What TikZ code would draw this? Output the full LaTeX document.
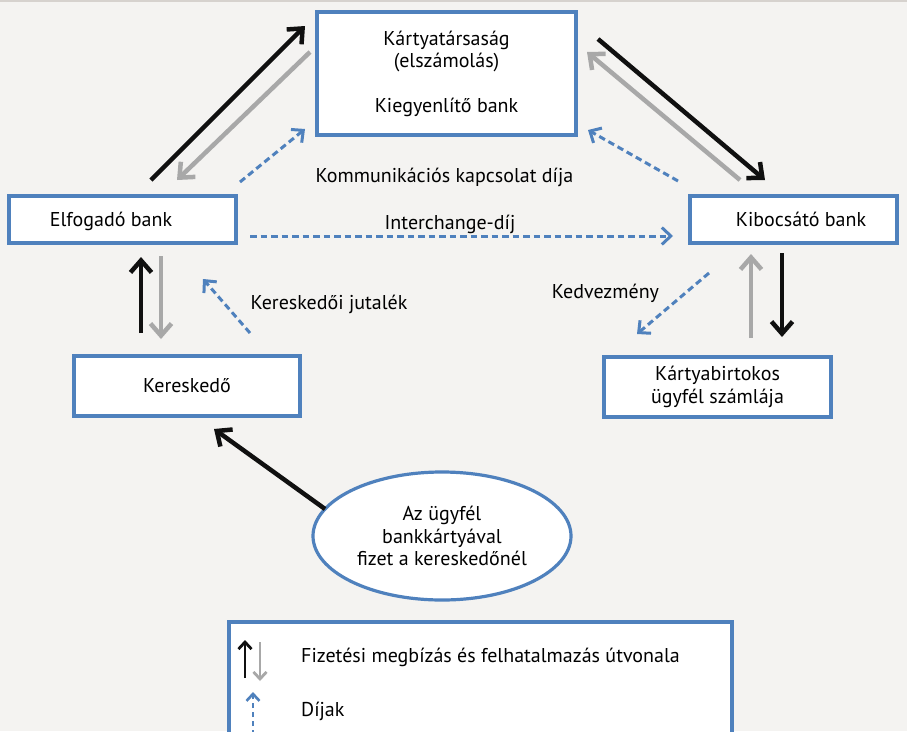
\documentclass[tikz,border=0pt]{standalone}
\usepackage{fontspec}
\setmainfont{PT Sans}
\usetikzlibrary{arrows.meta,shapes.geometric,calc}
\definecolor{bgc}{HTML}{F4F3F1}
\definecolor{bblue}{HTML}{4F81BD}
\definecolor{agray}{HTML}{A8A8A8}
\definecolor{ablack}{HTML}{101010}
\definecolor{topline}{HTML}{D6D2CE}
\newcommand\dgfs{\fontsize{20pt}{22.5pt}\selectfont}
\begin{document}
\begin{tikzpicture}[x=1pt,y=-1pt,
  box/.style={draw=bblue,line width=3.2pt,fill=white,rectangle,inner sep=0pt,outer sep=0pt,align=center,font=\dgfs},
  txt/.style={inner sep=0pt,font=\dgfs,text height=16pt,text depth=4pt},
  blk/.style={draw=ablack,line width=4.5pt,-{Straight Barb[length=12pt,width=21pt]}},
  gry/.style={draw=agray,line width=4.5pt,-{Straight Barb[length=12pt,width=21pt]}},
  fee/.style={draw=bblue,line width=3pt,dash pattern=on 6.5pt off 4pt,-{Straight Barb[length=9pt,width=17pt]}},
  lblk/.style={draw=ablack,line width=2.8pt,-{Straight Barb[length=7pt,width=13pt]}},
  lgry/.style={draw=agray,line width=2.8pt,-{Straight Barb[length=7pt,width=13pt]}},
  lfee/.style={draw=bblue,line width=2.6pt,dash pattern=on 5pt off 4pt,-{Straight Barb[length=7pt,width=13pt]}}]
\fill[bgc] (0,0) rectangle (907,731);
\useasboundingbox (0,0) rectangle (907,731);
\draw[topline,line width=1.5pt] (0,0.75) -- (907,0.75);

% boxes
\node[box,minimum width=259pt,minimum height=123pt] (card) at (446.5,73.5)
  {Kártyatársaság\\(elszámolás)\\[22pt]Kiegyenlítő bank};
\node[box,minimum width=227pt,minimum height=47pt] (elf) at (122.5,219.5) {};
\node[txt] (elft) at (111,220) {Elfogadó bank};
\node[box,minimum width=207pt,minimum height=47pt] (kib) at (793.5,219.5) {};
\node[txt] (kibt) at (801,220) {Kibocsátó bank};
\node[box,minimum width=226pt,minimum height=60pt] (ker) at (187,386) {Kereskedő};
\node[box,minimum width=227pt,minimum height=60pt] (kar) at (717.5,387) {Kártyabirtokos\\ügyfél számlája};
\node[draw=bblue,line width=3.2pt,fill=white,ellipse,minimum width=258pt,minimum height=128pt,
  inner sep=0pt,outer sep=0pt,align=center,font=\dgfs] (ell) at (442,536)
  {Az ügyfél\\bankkártyával\\fizet a kereskedőnél};

% labels
\node[txt] (komm) at (444.5,176) {Kommunikációs kapcsolat díja};
\node[txt] (inter) at (450,223) {Interchange-díj};
\node[txt] (jut) at (329,303) {Kereskedői jutalék};
\node[txt] (kedv) at (605.5,292) {Kedvezmény};

% connectors
\draw[blk] ($(elf.north)+(28.5,-16)$) -- ($(card.north west)+(-12,14)$);
\draw[gry] ($(card.north west)+(-7,40)$) -- ($(elf.north)+(54.5,-16)$);
\draw[fee] ($(elf.north east)+(4,-14)$) -- ($(card.south west)+(-12,-6)$);
\draw[blk] ($(card.north east)+(22,27)$) -- ($(kib.north)+(-28.5,-16)$);
\draw[gry] ($(kib.north)+(-53.5,-16)$) -- ($(card.north east)+(11,40)$);
\draw[fee] ($(kib.north west)+(-12,-15)$) -- ($(card.south east)+(12,-5)$);
\draw[fee] ($(elf.east)+(14,16.5)$) -- ($(kib.west)+(-17,16.5)$);
\draw[blk] ($(ker.north)+(-46,-23)$) -- ($(elf.south)+(18.5,14)$);
\draw[gry] ($(elf.south)+(38.5,13)$) -- ($(ker.north)+(-26,-17)$);
\draw[fee] ($(ker.north east)+(-50,-23)$) -- ($(elf.south)+(80.5,36)$);
\draw[gry] ($(kar.north)+(33.5,-19)$) -- ($(kib.south)+(-42.5,11)$);
\draw[blk] ($(kib.south)+(-11.5,10)$) -- ($(kar.north)+(64.5,-20)$);
\draw[fee] ($(kib.south)+(-84.5,30)$) -- ($(kar.north west)+(33,-23)$);
\draw[blk] (ell.167) -- ($(ker.south)+(27,13)$);

% legend
\node[box,minimum width=503pt,minimum height=116pt] (leg) at (480.5,680) {};
\node[txt,anchor=west] (l1) at (301,656) {Fizetési megbízás és felhatalmazás útvonala};
\node[txt,anchor=west] (l2) at (301,710) {Díjak};
\draw[lblk] ($(leg.north west)+(16,56)$) -- ($(leg.north west)+(16,18)$);
\draw[lgry] ($(leg.north west)+(31,20)$) -- ($(leg.north west)+(31,59)$);
\draw[lfee] ($(leg.north west)+(24,113)$) -- ($(leg.north west)+(24,70)$);
\end{tikzpicture}
\end{document}
